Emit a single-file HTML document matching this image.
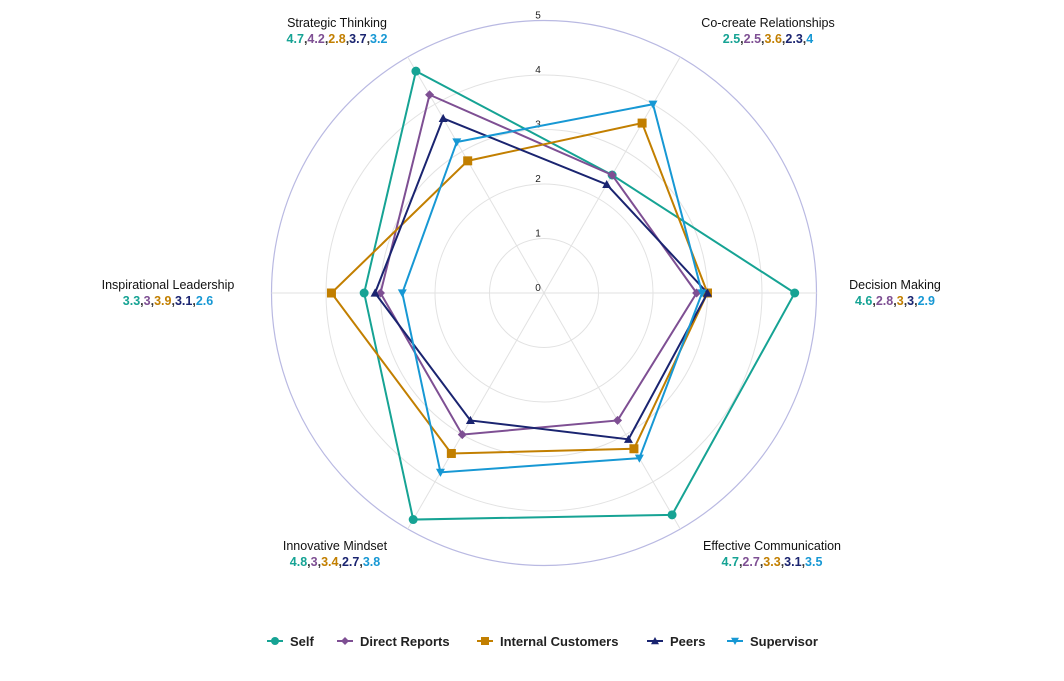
<!DOCTYPE html>
<html><head><meta charset="utf-8"><style>
body{margin:0;background:#fff;font-family:"Liberation Sans",sans-serif}
svg text{font-family:"Liberation Sans",sans-serif}
</style></head><body>
<svg id="c" width="1064" height="676"></svg>
<script>
const categories=["Decision Making","Co-create Relationships","Strategic Thinking","Inspirational Leadership","Innovative Mindset","Effective Communication"];
const seriesNames=["Self","Direct Reports","Internal Customers","Peers","Supervisor"];
const selfVals=[4.6,2.5,4.7,3.3,4.8,4.7];
const directVals=[2.8,2.5,4.2,3,3,2.7];
const internalVals=[3,3.6,2.8,3.9,3.4,3.3];
const peersVals=[3,2.3,3.7,3.1,2.7,3.1];
const supervisorVals=[2.9,4,3.2,2.6,3.8,3.5];
const tickLabels=["0","1","2","3","4","5"];
const allVals=[selfVals,directVals,internalVals,peersVals,supervisorVals];
const colors=["#16a394","#7e4f93","#c27f00","#1a2470","#1798d4"];
const markers=["circle","diamond","square","tri-up","tri-down"];
const cx=544,cy=293,unit=54.5;
const NS="http://www.w3.org/2000/svg";
const svg=document.getElementById('c');
function mk(t,a,p){const e=document.createElementNS(NS,t);for(const k in a)e.setAttribute(k,a[k]);(p||svg).appendChild(e);return e;}
function ang(i){return i*Math.PI/3;}
function pt(i,v){return [cx+Math.cos(ang(i))*v*unit, cy-Math.sin(ang(i))*v*unit];}
const g=mk('g',{});
for(let r=1;r<=5;r++){const c=mk('circle',{cx:cx,cy:cy,r:r*unit,fill:'none',stroke:r==5?'#b9b9e2':'#e2e2e2','stroke-width':r==5?1.2:1},g);
}
for(let i=0;i<6;i++){const p=pt(i,5);const l=mk('line',{x1:cx,y1:cy,x2:p[0],y2:p[1],stroke:'#e2e2e2'},g);
}
tickLabels.forEach((t,k)=>{const e=mk('text',{x:cx-6,y:cy-Number(t)*unit-2,'font-size':10,'text-anchor':'middle',fill:'#222'});e.textContent=t;
});
allVals.forEach((vals,s)=>{
 const sg=mk('g',{});
 const pts=vals.map((v,i)=>pt(i,v));
 const pl=mk('polygon',{points:pts.map(p=>p.join(',')).join(' '),fill:'none',stroke:colors[s],'stroke-width':2},sg);
 
 pts.forEach(p=>{drawMarker(sg,markers[s],p[0],p[1],colors[s],4.5);});
});
function drawMarker(par,m,x,y,col,r){let e;
 if(m=='circle')e=mk('circle',{cx:x,cy:y,r:r,fill:col},par);
 else if(m=='square')e=mk('rect',{x:x-r,y:y-r,width:2*r,height:2*r,fill:col},par);
 else if(m=='diamond')e=mk('polygon',{points:`${x},${y-r} ${x+r},${y} ${x},${y+r} ${x-r},${y}`,fill:col},par);
 else if(m=='tri-up')e=mk('polygon',{points:`${x},${y-r} ${x+r},${y+r*0.8} ${x-r},${y+r*0.8}`,fill:col},par);
 else e=mk('polygon',{points:`${x},${y+r} ${x+r},${y-r*0.8} ${x-r},${y-r*0.8}`,fill:col},par);
 }
const labelPos=[[895,285,'middle'],[768,23,'middle'],[337,23,'middle'],[168,285,'middle'],[335,546,'middle'],[772,546,'middle']];
categories.forEach((c,i)=>{const [x,y,a]=labelPos[i];
 const t=mk('text',{x:x,y:y+4,'font-size':12.5,'text-anchor':a,fill:'#111'});t.textContent=c;
 
 const v=mk('text',{x:x,y:y+20,'font-size':12.5,'font-weight':'bold','text-anchor':a});
 
 allVals.forEach((vals,s)=>{if(s>0){const cm=document.createElementNS(NS,'tspan');cm.setAttribute('fill','#333');cm.textContent=',';v.appendChild(cm);}
  const ts=document.createElementNS(NS,'tspan');ts.setAttribute('fill',colors[s]);ts.textContent=String(vals[i]);v.appendChild(ts);});
});
const legX=[275,345,485,655,735];
seriesNames.forEach((n,s)=>{const lg=mk('g',{});
 const x=legX[s],y=641;
 const l=mk('line',{x1:x-8,y1:y,x2:x+8,y2:y,stroke:colors[s],'stroke-width':2},lg);
 
 drawMarker(lg,markers[s],x,y,colors[s],4);
 const t=mk('text',{x:x+15,y:y+5,'font-size':13,'font-weight':'bold',fill:'#222'},lg);t.textContent=n;
 
});
</script>
</body></html>
